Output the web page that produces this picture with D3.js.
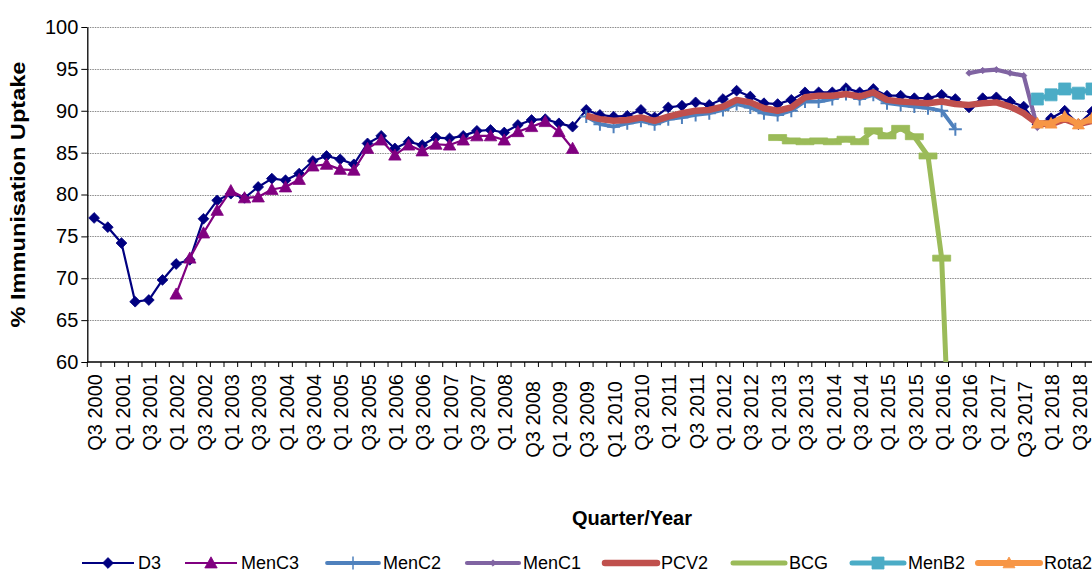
<!DOCTYPE html>
<html><head><meta charset="utf-8">
<script src="https://cdn.jsdelivr.net/npm/d3@7"></script>
<style>
html,body{margin:0;padding:0;background:#fff;}
svg{display:block;font-family:"Liberation Sans",Arial,sans-serif;}
</style></head>
<body>
<script>
// ---------- DATA ----------
const quarters = [
 "Q3 2000","Q4 2000","Q1 2001","Q2 2001","Q3 2001","Q4 2001","Q1 2002","Q2 2002","Q3 2002","Q4 2002",
 "Q1 2003","Q2 2003","Q3 2003","Q4 2003","Q1 2004","Q2 2004","Q3 2004","Q4 2004","Q1 2005","Q2 2005",
 "Q3 2005","Q4 2005","Q1 2006","Q2 2006","Q3 2006","Q4 2006","Q1 2007","Q2 2007","Q3 2007","Q4 2007",
 "Q1 2008","Q2 2008","Q3 2008","Q4 2008","Q1 2009","Q2 2009","Q3 2009","Q4 2009","Q1 2010","Q2 2010",
 "Q3 2010","Q4 2010","Q1 2011","Q2 2011","Q3 2011","Q4 2011","Q1 2012","Q2 2012","Q3 2012","Q4 2012",
 "Q1 2013","Q2 2013","Q3 2013","Q4 2013","Q1 2014","Q2 2014","Q3 2014","Q4 2014","Q1 2015","Q2 2015",
 "Q3 2015","Q4 2015","Q1 2016","Q2 2016","Q3 2016","Q4 2016","Q1 2017","Q2 2017","Q3 2017","Q4 2017",
 "Q1 2018","Q2 2018","Q3 2018","Q4 2018"];
// labelled quarters (every other quarter)
const tickLabels = quarters.filter((q, i) => i % 2 === 0);
// labels Excel drew slightly lower
const loweredLabels = ["Q3 2008","Q1 2009","Q3 2009","Q1 2010","Q3 2017"];
const yTicks = [60,65,70,75,80,85,90,95,100];

const d3Start = "Q3 2000";
const d3Values = [77.2,76.1,74.2,67.2,67.4,69.8,71.7,72.2,77.1,79.3,
 80.1,79.6,80.9,81.9,81.7,82.5,84.0,84.6,84.2,83.6,
 86.1,87.0,85.5,86.3,85.9,86.8,86.7,87.0,87.6,87.7,
 87.4,88.3,88.9,89.0,88.5,88.1,90.1,89.5,89.3,89.4,
 90.1,89.2,90.4,90.6,91.0,90.7,91.4,92.4,91.7,90.9,
 90.8,91.3,92.2,92.2,92.2,92.7,92.2,92.6,91.8,91.8,
 91.5,91.5,91.9,91.4,90.4,91.5,91.6,91.1,90.5,88.4,
 89.1,90.0,88.4,89.9];
const menC3Start = "Q1 2002";
const menC3Values = [68.1,72.4,75.4,78.1,80.45,79.6,79.7,80.6,80.9,81.8,
 83.4,83.6,83.0,82.9,85.5,86.5,84.7,85.9,85.2,86.0,
 85.9,86.5,87.0,87.0,86.5,87.5,88.1,88.7,87.5,85.5];
const menC2Start = "Q3 2009";
const menC2Values = [89.3,88.4,88.1,88.5,88.8,88.4,89.0,89.2,89.5,89.7,
 90.1,90.8,90.4,89.7,89.5,90.0,91.1,91.1,91.4,92.0,
 91.4,91.9,90.9,90.7,90.5,90.3,90.0,87.8];
const menC1Start = "Q3 2016";
const menC1Values = [94.5,94.8,94.9,94.5,94.2,88.0];
const pcv2Start = "Q3 2009";
const pcv2Values = [89.4,89.0,88.8,88.9,89.2,88.8,89.3,89.7,90.0,90.1,
 90.5,91.3,91.0,90.3,90.0,90.4,91.6,91.8,91.8,92.0,
 91.7,92.2,91.3,91.1,91.0,90.9,91.1,90.8,90.7,90.9,
 91.0,90.5,89.7,88.5,88.4,89.0,88.4,88.8];
const bcgStart = "Q1 2013";
const bcgValues = [86.8,86.4,86.3,86.4,86.3,86.6,86.3,87.6,87.0,87.9,86.9,84.6,72.4,32.0];
const menB2Start = "Q4 2017";
const menB2Values = [91.4,91.9,92.6,92.1,92.6];
const rota2Start = "Q4 2017";
const rota2Values = [88.5,88.5,89.3,88.4,89.1];

const seriesNames = ["D3","MenC3","MenC2","MenC1","PCV2","BCG","MenB2","Rota2"];

// ---------- STYLE ----------
const styles = {
  D3:    {color:"#000080", width:2.2, marker:"diamond", ms:5.4},
  MenC3: {color:"#800080", width:2.2, marker:"triangle", ms:6.2},
  MenC2: {color:"#4F81BD", width:3.8, marker:"plus", ms:6.5},
  MenC1: {color:"#8064A2", width:4.2, marker:"diamond", ms:3.2},
  PCV2:  {color:"#C0504D", width:6.5, marker:"none", ms:0},
  BCG:   {color:"#9BBB59", width:5, marker:"dash", ms:9},
  MenB2: {color:"#4BACC6", width:5, marker:"square", ms:6},
  Rota2: {color:"#F79646", width:6, marker:"triangle", ms:6}
};
const legendX = [82,185,327,467,605,733,852,978];

const W = 1092, H = 574;
const plot = {left:87.3, top:27, bottom:362, right:W};
const band = 13.67;

const svg = d3.select("body").append("svg").attr("width",W).attr("height",H);
svg.append("rect").attr("width",W).attr("height",H).attr("fill","#fff");

const x = d3.scaleBand().domain(quarters)
  .range([plot.left, plot.left + band*quarters.length]).paddingInner(0).paddingOuter(0);
const cx = q => x(q) + x.bandwidth()/2;
const y = d3.scaleLinear().domain([60,100]).range([plot.bottom, plot.top]);

function build(start, values){
  const s = quarters.indexOf(start);
  return values.map((v,i) => ({q: quarters[s+i], v}));
}
const seriesData = {
  D3: build(d3Start,d3Values), MenC3: build(menC3Start,menC3Values),
  MenC2: build(menC2Start,menC2Values), MenC1: build(menC1Start,menC1Values),
  PCV2: build(pcv2Start,pcv2Values), BCG: build(bcgStart,bcgValues),
  MenB2: build(menB2Start,menB2Values), Rota2: build(rota2Start,rota2Values)
};

// gridlines
svg.append("g").selectAll("line").data(yTicks.filter(t => t>60)).join("line")
  .attr("x1",plot.left).attr("x2",plot.right)
  .attr("y1",d=>Math.round(y(d))+0.5).attr("y2",d=>Math.round(y(d))+0.5)
  .attr("stroke","#8a8a8a").attr("stroke-width",1).attr("stroke-dasharray","1.5,1");

// y axis
const yAxis = d3.axisLeft(y).tickValues(yTicks).tickSize(6).tickSizeOuter(0).tickPadding(3);
const gy = svg.append("g").attr("transform",`translate(${plot.left},0)`).call(yAxis);
gy.select(".domain").attr("stroke","#000").attr("stroke-width",1.3);
gy.selectAll(".tick line").attr("stroke","#000");
gy.selectAll("text").attr("font-size",20).attr("fill","#000")
  .attr("font-family","'Liberation Sans',Arial,sans-serif");

// x axis line + ticks at category boundaries
const gx = svg.append("g");
gx.append("line").attr("x1",plot.left).attr("x2",plot.right)
  .attr("y1",plot.bottom).attr("y2",plot.bottom).attr("stroke","#000").attr("stroke-width",1.3);
gx.selectAll("line.tk").data(quarters).join("line").attr("class","tk")
  .attr("x1",d=>x(d)).attr("x2",d=>x(d))
  .attr("y1",plot.bottom).attr("y2",plot.bottom+5).attr("stroke","#000");
gx.selectAll("text").data(tickLabels).join("text")
  .attr("transform",d=>`translate(${cx(d)+1},${plot.bottom+12+(loweredLabels.includes(d)?7:0)}) rotate(-90)`)
  .attr("text-anchor","end").attr("dy","0.36em")
  .attr("font-size",20).attr("fill","#000").text(d=>d);

// clip
svg.append("clipPath").attr("id","clip").append("rect")
  .attr("x",plot.left).attr("y",plot.top-10).attr("width",W-plot.left).attr("height",plot.bottom-plot.top+10);

const markerPath = {
  diamond: s => `M0,${-s}L${s},0L0,${s}L${-s},0Z`,
  triangle: s => `M0,${-s}L${s},${s*0.8}L${-s},${s*0.8}Z`,
  square: s => `M${-s},${-s}H${s}V${s}H${-s}Z`,
  dash: s => `M${-s},-3H${s}V3H${-s}Z`,
  plus: s => `M${-s},0H${s}M0,${-s}V${s}`
};

const line = d3.line().x(d=>cx(d.q)).y(d=>y(d.v));
const gSeries = svg.append("g").attr("clip-path","url(#clip)");
seriesNames.forEach(name => {
  const st = styles[name], data = seriesData[name];
  const g = gSeries.append("g");
  g.append("path").datum(data).attr("d",line).attr("fill","none")
    .attr("stroke",st.color).attr("stroke-width",st.width).attr("stroke-linejoin","round");
  if (st.marker !== "none") {
    g.selectAll("path.m").data(data).join("path").attr("class","m")
      .attr("transform",d=>`translate(${cx(d.q)},${y(d.v)})`)
      .attr("d",markerPath[st.marker](st.ms))
      .attr("fill", st.marker==="plus" ? "none" : st.color)
      .attr("stroke",st.color).attr("stroke-width", st.marker==="plus" ? 2 : 0.8);
  }
});

// axis titles
svg.append("text").attr("x",632).attr("y",525).attr("text-anchor","middle")
  .attr("font-size",20).attr("font-weight","bold").text("Quarter/Year");
svg.append("text").attr("transform",`translate(25,${(plot.top+plot.bottom)/2}) rotate(-90)`)
  .attr("text-anchor","middle").attr("font-size",21).attr("font-weight","bold")
  .attr("textLength",266).attr("lengthAdjust","spacingAndGlyphs")
  .text("% Immunisation Uptake");

// legend
const legY = 563;
const lg = svg.append("g");
seriesNames.forEach((name,i) => {
  const st = styles[name], x0 = legendX[i];
  const len = name==="Rota2" ? 62 : 52;
  const g = lg.append("g");
  g.append("line").attr("x1",x0).attr("x2",x0+len).attr("y1",legY).attr("y2",legY)
    .attr("stroke",st.color).attr("stroke-width",st.width).attr("stroke-linecap", st.width>3?"round":"butt");
  if (st.marker !== "none" && st.marker !== "dash") {
    g.append("path").attr("transform",`translate(${x0+len/2},${legY})`)
      .attr("d",markerPath[st.marker](st.ms))
      .attr("fill", st.marker==="plus" ? "none" : st.color)
      .attr("stroke",st.color).attr("stroke-width", st.marker==="plus" ? 1.5 : 0.8);
  }
  g.append("text").attr("x",x0+len+4).attr("y",legY).attr("dy","0.36em")
    .attr("font-size",18).attr("fill","#000").text(name);
});
</script>
</body></html>
